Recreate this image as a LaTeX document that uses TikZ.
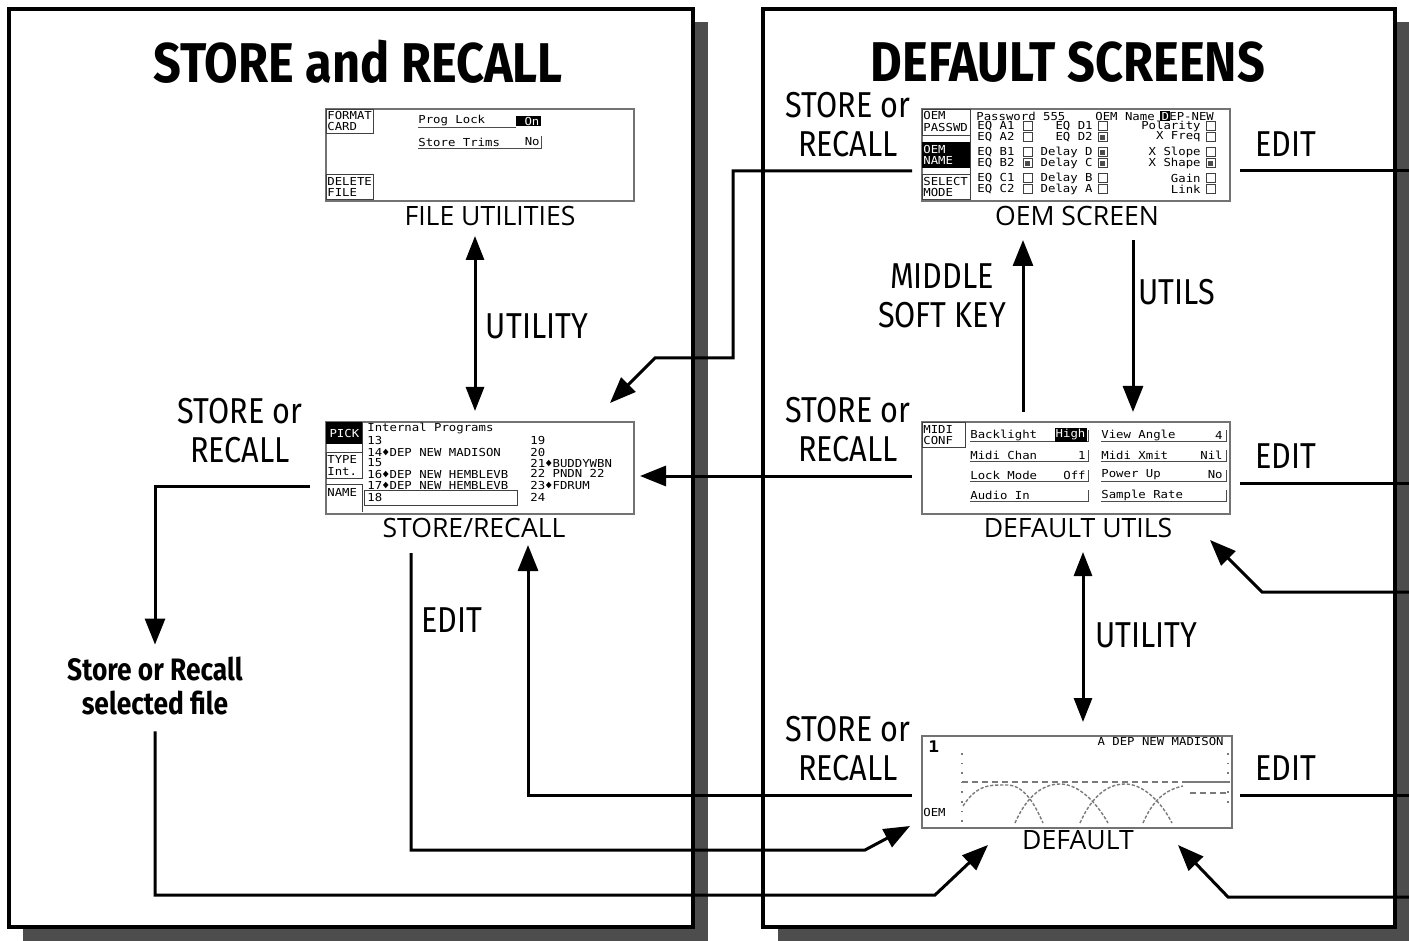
\documentclass[tikz,border=0pt]{standalone}
\usepackage{fontspec}
\setmainfont{Fira Sans}
\newfontfamily\titlefont[FakeStretch=0.87]{Fira Sans}
\newfontfamily\labfont[FakeStretch=0.85]{Fira Sans}
\newfontfamily\capfont{Open Sans}
\newfontfamily\lcdfont[FakeStretch=1.12]{DejaVu Sans Mono}
\usetikzlibrary{arrows.meta,positioning,calc}
\definecolor{shadowgray}{HTML}{4D4D4D}
\definecolor{lcdline}{HTML}{7A7A7A}
\definecolor{ink}{HTML}{000000}
\tikzset{
  panel/.style={draw=ink, fill=white, line width=1.8pt},
  dropshadow/.style={fill=shadowgray, draw=none},
  title/.style={font=\titlefont\bfseries\fontsize{28}{32}\selectfont, inner sep=0pt},
  screen/.style={draw=black!55, fill=white, line width=0.9pt, anchor=north west,
                 inner sep=0pt, minimum width=154pt, minimum height=46pt},
  caption/.style={font=\capfont\fontsize{13.3}{15}\selectfont, inner sep=0pt},
  keylabel/.style={font=\labfont\fontsize{18}{19.5}\selectfont, align=center, inner sep=0pt},
  filelabel/.style={font=\labfont\bfseries\fontsize{15.5}{17}\selectfont, align=center, inner sep=8pt},
  conn/.style={line width=1.5pt, draw=ink},
  arrow/.style={conn, -{Triangle[length=13pt,width=10pt]}},
  both/.style={conn, {Triangle[length=12pt,width=9pt]}-{Triangle[length=12pt,width=9pt]}},
  lcd/.style={font=\lcdfont\fontsize{5.5}{5.5}\selectfont, inner sep=0pt, anchor=west},
  inv/.style={lcd, fill=black, text=white, inner sep=0.6pt},
  softkey/.style={draw=black!75, line width=0.45pt},
  lcdrule/.style={draw=black!70, line width=0.45pt},
  chk/.style={draw=black!75, line width=0.4pt},
  curve/.style={draw=lcdline, line width=0.7pt, dash pattern=on 1.6pt off 0.9pt}
}
\begin{document}
\begin{tikzpicture}[x=0.5pt,y=-0.5pt]
  \useasboundingbox (0,0) rectangle (1409,941);
  % panels with drop shadows
  \fill[dropshadow] (23,22) rectangle (708,941);
  \fill[dropshadow] (778,22) rectangle (1409,941);
  \draw[panel] (9,9) rectangle (693,927);
  \draw[panel] (763,9) rectangle (1395,927);
  \node[title] (titleL) at (358,62) {STORE and RECALL};
  \node[title] (titleR) at (1068,62) {DEFAULT SCREENS};

  % screens
  \node[screen] (fu)  at (325,108) {};
  \node[screen] (sr)  at (325,421) {};
  \node[screen] (oem) at (921,108) {};
  \node[screen] (du)  at (921,421) {};
  \node[screen, minimum width=155pt] (df) at (921,735) {};
  \node[caption] (fuCap)  at (490,216) {FILE UTILITIES};
  \node[caption] (srCap)  at (474,528) {STORE/RECALL};
  \node[caption] (oemCap) at (1077,216) {OEM SCREEN};
  \node[caption] (duCap)  at (1078,528) {DEFAULT UTILS};
  \node[caption] (dfCap)  at (1078,840) {DEFAULT};

  % file utilities screen
  \draw[softkey] (326,109) rectangle (373,133);
  \node[lcd] at (327,115) {FORMAT};
  \node[lcd] at (327,126) {CARD};
  \draw[softkey] (326,174) rectangle (373,199);
  \node[lcd] at (327,181) {DELETE};
  \node[lcd] at (327,192) {FILE};
  \node[lcd] at (418,121) {Prog Lock};
  \draw[lcdrule] (418,127) -- (516,127);
  \node[inv, anchor=east] at (541,121) {~On};
  \node[lcd] at (418,142) {Store Trims};
  \node[lcd, anchor=east] at (540,142) {No};
  \draw[lcdrule] (418,148) -- (541,148) -- (541,136);

  % store/recall screen
  \node[inv, anchor=north west, minimum width=18pt, minimum height=11pt] at (326,422) {PICK};
  \draw[softkey] (326,452) rectangle (362,478);
  \node[lcd] at (327,459) {TYPE};
  \node[lcd] at (327,471) {Int.};
  \draw[softkey] (326,484) -- (362,484) -- (362,512);
  \draw[softkey] (362,422) -- (362,452);
  \node[lcd] at (327,492) {NAME};
  \node[lcd] at (367,428) {Internal Programs};
  \node[lcd] at (367,440) {13};
  \node[lcd] at (367,452) {14♦DEP NEW  MADISON};
  \node[lcd] at (367,463) {15};
  \node[lcd] at (367,474) {16♦DEP NEW  HEMBLEVB};
  \node[lcd] at (367,485) {17♦DEP NEW  HEMBLEVB};
  \draw[softkey] (364,490) rectangle (517,505);
  \node[lcd] at (367,497) {18};
  \node[lcd] at (530,440) {19};
  \node[lcd] at (530,452) {20};
  \node[lcd] at (530,463) {21♦BUDDYWBN};
  \node[lcd] at (530,473) {22 PNDN 22};
  \node[lcd] at (530,485) {23♦FDRUM};
  \node[lcd] at (530,497) {24};

  % oem screen
  \draw[softkey] (922,109) rectangle (970,135);
  \node[lcd] at (923,115) {OEM};
  \node[lcd] at (923,127) {PASSWD};
  \fill[black] (922,142) rectangle (970,168);
  \node[lcd, text=white] at (923,149) {OEM};
  \node[lcd, text=white] at (923,160) {NAME};
  \draw[softkey] (922,174) rectangle (970,199);
  \draw[softkey] (970,109) -- (970,199);
  \node[lcd] at (923,181) {SELECT};
  \node[lcd] at (923,192) {MODE};
  \node[lcd] at (976,116) {Password 555};
  \node[lcd] at (1095,116) {OEM Name};
  \node[inv] at (1160,116) {D};
  \node[lcd] at (1169,116) {EP-NEW};
  \foreach \row/\ya/\yb/\yc [count=\i] in
      {{126}/{EQ A1}/{EQ D1}/{Polarity},{137}/{EQ A2}/{EQ D2}/{X Freq},
       {152}/{EQ B1}/{Delay D}/{X Slope},{163}/{EQ B2}/{Delay C}/{X Shape},
       {178}/{EQ C1}/{Delay B}/{Gain},{189}/{EQ C2}/{Delay A}/{Link}} {
    \node[lcd] at (977,\row) {\ya};
    \draw[chk] (1023,\row-4.5) rectangle (1032,\row+4.5);
    \node[lcd, anchor=east] at (1093,\row) {\yb};
    \draw[chk] (1098,\row-4.5) rectangle (1107,\row+4.5);
    \node[lcd, anchor=east] at (1201,\row) {\yc};
    \draw[chk] (1206,\row-4.5) rectangle (1215,\row+4.5);
  }
  \fill[black!70] (1025,161) rectangle (1030,166);
  \fill[black!70] (1100,135) rectangle (1105,140);
  \fill[black!70] (1100,150) rectangle (1105,155);
  \fill[black!70] (1100,161) rectangle (1105,166);
  \fill[black!70] (1208,161) rectangle (1213,166);

  % default utils screen
  \draw[softkey] (922,422) rectangle (965,447);
  \node[lcd] at (923,429) {MIDI};
  \node[lcd] at (923,440) {CONF};
  \foreach \row/\la/\va/\lb/\vb in
      {435/Backlight//View Angle/4, 455/Midi Chan/1/Midi Xmit/Nil,
       475/Lock Mode/Off/Power Up/No, 495/Audio In//Sample Rate/} {
    \node[lcd] at (970,\row) {\la};
    \node[lcd, anchor=east] at (1086,\row) {\va};
    \draw[lcdrule] (970,\row+6) -- (1088,\row+6) -- (1088,\row-5);
    \node[lcd] at (1101,\row) {\lb};
    \node[lcd, anchor=east] at (1223,\row) {\vb};
    \draw[lcdrule] (1101,\row+6) -- (1226,\row+6) -- (1226,\row-5);
  }
  \node[inv, anchor=east] at (1087,435) {High};

  % default screen
  \node[lcd, font=\lcdfont\bfseries\fontsize{8}{8}\selectfont] at (928,747) {1};
  \node[lcd, anchor=east] at (1224,741) {A  DEP NEW  MADISON};
  \node[lcd] at (923,812) {OEM};
  \draw[lcdline, line width=0.6pt, dash pattern=on 0.8pt off 4pt] (962,753) -- (962,823);
  \draw[lcdline, line width=0.6pt, dash pattern=on 0.8pt off 4pt] (1228,753) -- (1228,805);
  \draw[lcdline, line width=0.6pt, dash pattern=on 3pt off 2pt] (962,782) -- (1183,782);
  \draw[lcdline, line width=0.8pt] (1183,782) -- (1230,782);
  \draw[lcdline, line width=0.6pt, dash pattern=on 3pt off 2pt] (1190,793) -- (1228,793);
  \draw[curve] (963,806) .. controls (975,788) and (985,785) .. (1000,785)
               -- (1008,785) .. controls (1025,786) and (1035,805) .. (1043,823);
  \draw[curve] (1015,823) .. controls (1025,800) and (1040,784) .. (1060,784)
               .. controls (1080,784) and (1098,805) .. (1108,823);
  \draw[curve] (1080,823) .. controls (1090,800) and (1105,784) .. (1125,784)
               .. controls (1145,784) and (1163,805) .. (1172,823);
  \draw[curve] (1143,823) .. controls (1153,800) and (1165,790) .. (1183,786);

  % labels
  \node[keylabel] (srKey)  at (240,431) {STORE or\\RECALL};
  \node[keylabel] (oemKey) at (848,125) {STORE or\\RECALL};
  \node[keylabel] (duKey)  at (848,430) {STORE or\\RECALL};
  \node[keylabel] (dfKey)  at (848,749) {STORE or\\RECALL};
  \node[keylabel] (oemEdit) at (1286,144) {EDIT};
  \node[keylabel] (duEdit)  at (1286,456) {EDIT};
  \node[keylabel] (dfEdit)  at (1286,768) {EDIT};
  \node[keylabel] (srEdit)  at (452,620) {EDIT};
  \node[keylabel] (utilL) at (537,326) {UTILITY};
  \node[keylabel] (utilR) at (1146,635) {UTILITY};
  \node[keylabel] (utils) at (1177,292) {UTILS};
  \node[keylabel] (midKey) at (942,296) {MIDDLE\\SOFT KEY};
  \node[filelabel] (sel) at (155,686) {Store or Recall\\selected file};

  % connector ends and bends
  \coordinate (fuOut) at (475,236);  \coordinate (srTop) at (475,411);
  \coordinate (srOut) at (310,486);
  \coordinate (selBend) at (935,895); \coordinate (dfInA) at (988,845);
  \coordinate (oemOut) at (912,171);  \coordinate (oemBend) at (733,358);
  \coordinate (oemKnee) at (655,358); \coordinate (srInA) at (610,403);
  \coordinate (duOut) at (912,476);   \coordinate (srInB) at (640,476);
  \coordinate (srOutB) at (411,553);  \coordinate (srBend) at (865,850);
  \coordinate (dfInB) at (910,826);
  \coordinate (dfOut) at (912,795);   \coordinate (srInC) at (528,545);
  \coordinate (duUp) at (1023,412);   \coordinate (oemIn) at (1023,240);
  \coordinate (oemDn) at (1133,240);  \coordinate (duIn) at (1133,412);
  \coordinate (duDn) at (1083,552);   \coordinate (dfUp) at (1083,722);
  \coordinate (oemR) at (1240,171);   \coordinate (oemEx) at (1409,171);
  \coordinate (duR) at (1240,483);    \coordinate (duEx) at (1409,483);
  \coordinate (dfR) at (1240,795);    \coordinate (dfEx) at (1409,795);
  \coordinate (duRet) at (1409,592);  \coordinate (duKnee) at (1262,592);
  \coordinate (duInR) at (1210,540);
  \coordinate (dfRet) at (1409,897);  \coordinate (dfKnee) at (1228,897);
  \coordinate (dfInR) at (1178,845);

  % connectors
  \draw[both] (fuOut) -- (srTop);
  \draw[arrow] (srOut) -| ([yshift=-2pt]sel.north);
  \draw[arrow] (sel.south) |- (selBend) -- (dfInA);
  \draw[arrow] (oemOut) -| (oemBend) -- (oemKnee) -- (srInA);
  \draw[arrow] (duOut) -- (srInB);
  \draw[arrow] (srOutB) |- (srBend) -- (dfInB);
  \draw[arrow] (dfOut) -| (srInC);
  \draw[arrow] (duUp) -- (oemIn);
  \draw[arrow] (oemDn) -- (duIn);
  \draw[both] (duDn) -- (dfUp);
  \draw[conn] (oemR) -- (oemEx);
  \draw[conn] (duR) -- (duEx);
  \draw[conn] (dfR) -- (dfEx);
  \draw[arrow] (duRet) -- (duKnee) -- (duInR);
  \draw[arrow] (dfRet) -- (dfKnee) -- (dfInR);
\end{tikzpicture}
\end{document}
